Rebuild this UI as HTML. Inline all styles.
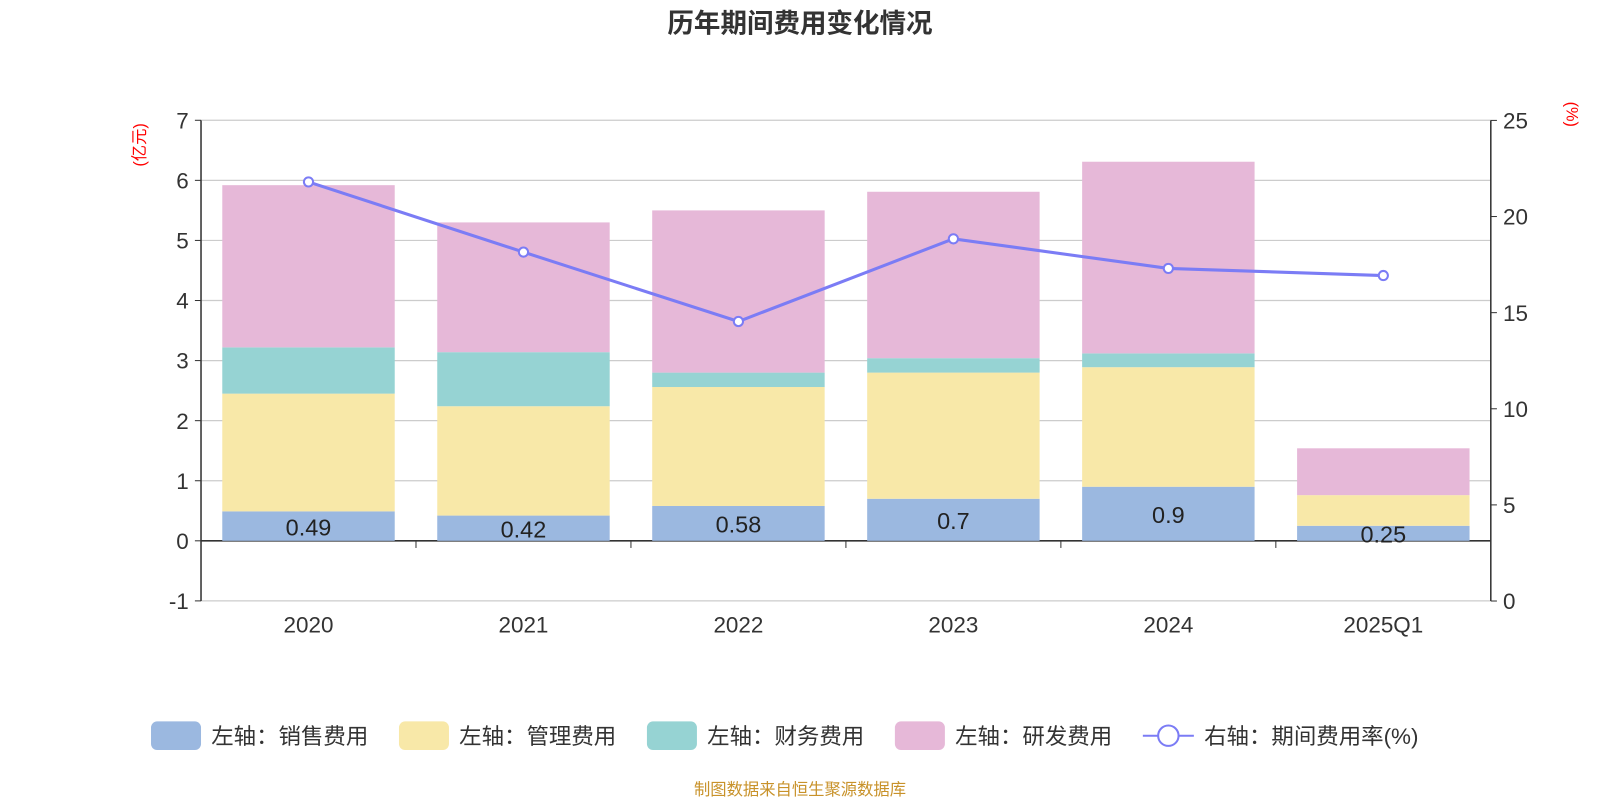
<!DOCTYPE html>
<html><head><meta charset="utf-8"><style>
body{margin:0;background:#fff;}
svg text{font-family:"Liberation Sans","Noto Sans CJK SC",sans-serif;}
</style></head><body>
<svg width="1600" height="800" xmlns="http://www.w3.org/2000/svg"><g id="c" transform="scale(1.0204)"></g></svg>
<script>
const categories=["2020","2021","2022","2023","2024","2025Q1"];
const sales=[0.49,0.42,0.58,0.7,0.9,0.25];
const mgmt=[1.96,1.82,1.98,2.10,1.99,0.51];
const fin=[0.77,0.90,0.24,0.24,0.23,0];
const rnd=[2.70,2.16,2.70,2.77,3.19,0.78];
const rate=[21.8,18.15,14.54,18.84,17.3,16.93];
const leftTicks=[-1,0,1,2,3,4,5,6,7];
const rightTicks=[0,5,10,15,20,25];
const salesLabels=["0.49","0.42","0.58","0.7","0.9","0.25"];

const svg=document.getElementById('c');
const NS="http://www.w3.org/2000/svg";
function mk(t,a,p){const e=document.createElementNS(NS,t);for(const k in a)e.setAttribute(k,a[k]);(p||svg).appendChild(e);return e;}
const X0=197,X1=1461,band=(X1-X0)/categories.length;
const yL=v=>530-v*58.875;
const yR=v=>589-v*18.84;
const xC=i=>X0+band*(i+0.5);

let t=mk('text',{x:784,y:32,'text-anchor':'middle','font-size':26,'font-weight':'bold',fill:'#333'});t.textContent='历年期间费用变化情况';


leftTicks.forEach(v=>{
 const l=mk('line',{x1:X0,x2:X1,y1:yL(v),y2:yL(v),stroke:v===0?'#333':'#ccc','stroke-width':v===0?1.5:1.2});
 
 const tx=mk('text',{x:X0-12,y:yL(v)+8,'text-anchor':'end','font-size':22,fill:'#333'});tx.textContent=v;
 
 mk('line',{x1:X0-6,x2:X0,y1:yL(v),y2:yL(v),stroke:'#333'});
});
rightTicks.forEach(v=>{
 const tx=mk('text',{x:X1+12,y:yR(v)+8,'font-size':22,fill:'#333'});tx.textContent=v;
 
 mk('line',{x1:X1,x2:X1+6,y1:yR(v),y2:yR(v),stroke:'#333'});
});
mk('line',{x1:X0,x2:X0,y1:118,y2:589,stroke:'#333','stroke-width':1.5});
mk('line',{x1:X1,x2:X1,y1:118,y2:589,stroke:'#333','stroke-width':1.5});
for(let i=1;i<categories.length;i++)mk('line',{x1:X0+band*i,x2:X0+band*i,y1:530,y2:537,stroke:'#333'});
let u=mk('text',{transform:'translate(142,142) rotate(-90)','text-anchor':'middle','font-size':16,fill:'red'});u.textContent='(亿元)';

u=mk('text',{transform:'translate(1535,112) rotate(90)','text-anchor':'middle','font-size':16,fill:'red'});u.textContent='(%)';


const series=[[sales,'#9bb8e0','sales'],[mgmt,'#f8e8a8','mgmt'],[fin,'#96d3d3','finance'],[rnd,'#e6b8d8','rnd']];
const bw=169;
categories.forEach((c,i)=>{
 let base=0;
 series.forEach(([arr,col,nm])=>{
  const v=arr[i];if(v<=0)return;
  const r=mk('rect',{x:xC(i)-bw/2,y:yL(base+v),width:bw,height:yL(base)-yL(base+v),fill:col});
  
  base+=v;
 });
 const lb=mk('text',{x:xC(i),y:yL(sales[i]/2)+9,'text-anchor':'middle','font-size':23,fill:'#222'});lb.textContent=salesLabels[i];
 
 const ct=mk('text',{x:xC(i),y:620,'text-anchor':'middle','font-size':22,fill:'#333'});ct.textContent=c;
 
});
const pl=mk('polyline',{points:rate.map((v,i)=>xC(i)+','+yR(v)).join(' '),fill:'none',stroke:'#7b7cf5','stroke-width':3});

rate.forEach((v,i)=>{const p=mk('circle',{cx:xC(i),cy:yR(v),r:4.5,fill:'#fff',stroke:'#7b7cf5','stroke-width':2});
 });

const leg=[['左轴：销售费用','#9bb8e0',148],['左轴：管理费用','#f8e8a8',391],['左轴：财务费用','#96d3d3',634],['左轴：研发费用','#e6b8d8',877]];
leg.forEach(([s,col,x])=>{
 const g=mk('g',{});
 mk('rect',{x:x,y:707,width:49,height:28,rx:6,fill:col},g);
 const tx=mk('text',{x:x+59,y:729,'font-size':22,fill:'#333'},g);tx.textContent=s;
});
const g=mk('g',{});
mk('line',{x1:1120,x2:1170,y1:721,y2:721,stroke:'#7b7cf5','stroke-width':2},g);
mk('circle',{cx:1145,cy:721,r:10,fill:'#fff',stroke:'#7b7cf5','stroke-width':2},g);
let lt=mk('text',{x:1180,y:729,'font-size':22,fill:'#333'},g);lt.textContent='右轴：期间费用率(%)';
const src=mk('text',{x:784,y:779,'text-anchor':'middle','font-size':16,fill:'#c8922a'});src.textContent='制图数据来自恒生聚源数据库';

</script>
</body></html>
